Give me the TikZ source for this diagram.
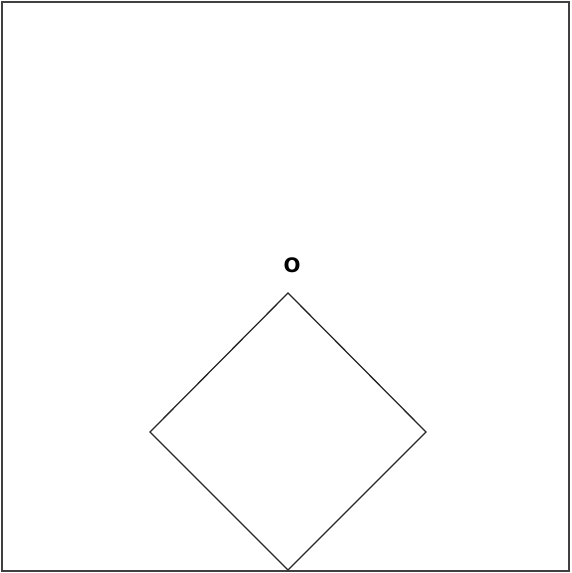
\documentclass[tikz,border=0pt]{standalone}
\usepackage{fontspec}
\setsansfont{DejaVu Sans}
\usepackage{tikz}
\usetikzlibrary{calc}
\begin{document}
\begin{tikzpicture}[x=0.3mm, y=-0.3mm,
    frame line/.style={draw=black!75, line width=1.1pt},
    side line/.style={draw=black!85, line width=1.1pt},
    corner label/.style={font=\sffamily\bfseries\fontsize{17}{17}\selectfont, inner sep=0pt}]
  \useasboundingbox (0,0) rectangle (571,573);
  \draw[frame line] (2,2) rectangle (569,571);
  % the square, stood on its corner
  \coordinate (Top) at (288,293);
  \coordinate (Left) at (150,432);
  \coordinate (Right) at (426,432);
  \coordinate (Bottom) at (288,570);
  \draw[side line] (Top) -- (Right) -- (Bottom) -- (Left) -- cycle;
  \node[corner label] (LabelO) at (292,265) {O};
\end{tikzpicture}
\end{document}
